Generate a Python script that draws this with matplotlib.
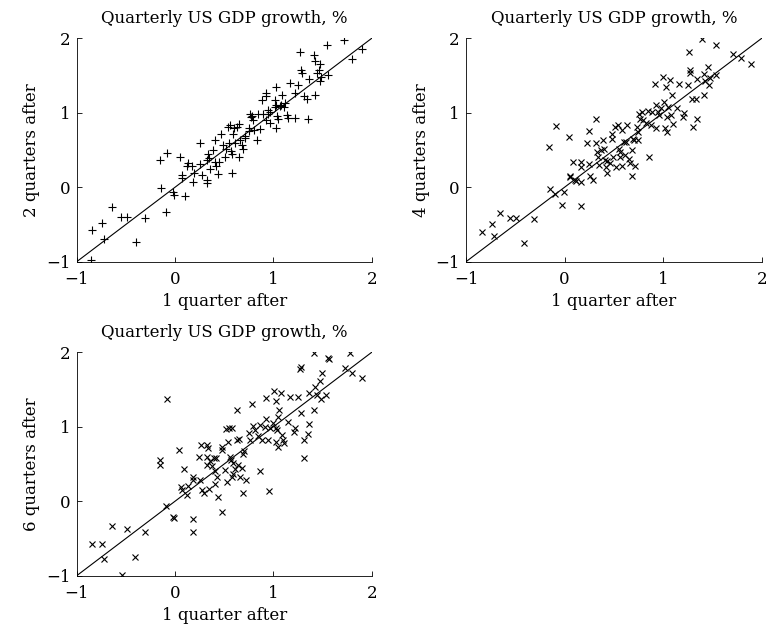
import matplotlib
matplotlib.use("Agg")
import matplotlib.pyplot as plt
import numpy as np

# Panel 1: 1 quarter after vs 2 quarters after
x1 = [-0.85,-0.84,-0.74,-0.72,-0.64,-0.55,-0.49,-0.40,-0.31,-0.15,-0.14,-0.085,-0.09,-0.02,-0.01,0.05,0.07,0.075,0.10,0.12,
      0.135,0.17,0.18,0.19,0.25,0.25,0.27,0.32,0.32,0.33,0.34,0.35,0.36,0.39,0.41,0.41,0.42,0.44,0.45,0.47,
      0.49,0.51,0.52,0.54,0.55,0.56,0.57,0.58,0.58,0.59,0.60,0.61,0.63,0.65,0.65,0.66,0.68,0.69,0.71,0.71,
      0.75,0.75,0.76,0.77,0.78,0.79,0.80,0.83,0.84,0.86,0.88,0.89,0.92,0.93,0.93,0.95,0.95,0.97,0.97,1.02,
      1.02,1.03,1.03,1.03,1.04,1.05,1.07,1.08,1.09,1.11,1.12,1.14,1.15,1.17,1.22,1.22,1.25,1.27,1.28,1.29,
      1.31,1.34,1.36,1.35,1.41,1.42,1.42,1.44,1.46,1.47,1.48,1.47,1.55,1.56,1.72,1.80,1.90]
y1 = [-0.98,-0.575,-0.48,-0.70,-0.26,-0.40,-0.40,-0.74,-0.41,0.37,-0.015,0.46,-0.33,-0.06,-0.10,0.41,0.16,0.12,-0.12,0.29,
      0.33,0.28,0.07,0.19,0.59,0.31,0.16,0.10,0.06,0.37,0.45,0.39,0.25,0.50,0.63,0.34,0.28,0.18,0.34,0.72,
      0.57,0.41,0.52,0.81,0.59,0.84,0.48,0.45,0.19,0.72,0.79,0.59,0.81,0.85,0.41,0.63,0.57,0.52,0.66,0.69,
      0.79,0.75,0.99,0.94,0.96,0.90,0.77,0.63,0.99,0.78,1.17,0.99,1.22,1.26,0.90,1.04,0.99,1.01,0.86,1.17,
      1.08,0.80,1.10,1.35,0.96,0.92,1.09,1.10,1.24,1.08,1.13,0.97,0.93,1.40,1.27,0.93,1.37,1.82,1.57,1.53,
      1.22,1.19,1.46,0.91,1.78,1.69,1.24,1.53,1.57,1.66,1.48,1.42,1.91,1.51,1.98,1.72,1.85]

# Panel 2: 1 quarter after vs 4 quarters after
x2 = [-0.84,-0.74,-0.72,-0.65,-0.55,-0.49,-0.41,-0.31,-0.16,-0.15,-0.09,-0.10,-0.03,-0.01,0.04,0.06,0.06,0.09,0.11,0.12,
      0.17,0.17,0.17,0.17,0.23,0.25,0.26,0.25,0.29,0.32,0.32,0.33,0.34,0.35,0.37,0.39,0.40,0.41,0.42,0.43,
      0.43,0.46,0.48,0.48,0.49,0.51,0.52,0.54,0.55,0.56,0.56,0.58,0.58,0.60,0.61,0.62,0.63,0.65,0.66,0.68,
      0.68,0.69,0.70,0.71,0.73,0.74,0.75,0.76,0.77,0.79,0.80,0.83,0.85,0.86,0.88,0.89,0.92,0.93,0.93,0.95,
      0.96,0.98,1.00,1.01,1.02,1.03,1.04,1.04,1.05,1.07,1.08,1.09,1.10,1.14,1.16,1.20,1.21,1.25,1.26,1.27,
      1.27,1.29,1.30,1.33,1.34,1.34,1.39,1.41,1.41,1.42,1.46,1.47,1.48,1.54,1.54,1.71,1.79,1.89]
y2 = [-0.60,-0.49,-0.66,-0.35,-0.41,-0.41,-0.75,-0.42,0.54,-0.03,0.82,-0.09,-0.24,-0.07,0.68,0.15,0.14,0.34,0.10,0.08,
      0.34,0.27,0.07,-0.25,0.59,0.75,0.15,0.31,0.10,0.91,0.59,0.47,0.41,0.30,0.50,0.63,0.51,0.36,0.27,0.19,
      0.35,0.32,0.72,0.65,0.41,0.81,0.27,0.83,0.52,0.47,0.41,0.77,0.29,0.61,0.43,0.61,0.83,0.38,0.32,0.50,
      0.15,0.65,0.63,0.28,0.81,0.74,0.64,0.99,0.92,1.01,0.90,0.86,1.03,0.41,0.84,1.01,1.39,1.10,0.80,1.01,
      0.97,1.06,1.48,1.15,0.79,1.35,0.74,0.94,1.08,1.44,0.97,1.24,0.85,1.06,1.39,0.94,1.00,1.37,1.82,1.58,
      1.54,1.18,0.81,1.19,0.91,1.45,1.99,1.52,1.24,1.42,1.61,1.37,1.47,1.91,1.51,1.79,1.73,1.66]

# Panel 3: 1 quarter after vs 6 quarters after
x3 = [-0.84,-0.74,-0.72,-0.64,-0.54,-0.49,-0.41,-0.31,-0.15,-0.15,-0.08,-0.09,-0.02,-0.01,0.04,0.06,0.07,0.09,0.12,0.13,
      0.18,0.18,0.18,0.18,0.24,0.25,0.26,0.27,0.29,0.32,0.33,0.34,0.33,0.35,0.36,0.38,0.40,0.41,0.41,0.42,
      0.43,0.44,0.48,0.48,0.48,0.51,0.52,0.53,0.54,0.55,0.56,0.57,0.58,0.58,0.59,0.59,0.61,0.63,0.63,0.64,
      0.65,0.66,0.68,0.69,0.69,0.70,0.72,0.75,0.76,0.78,0.79,0.81,0.84,0.86,0.86,0.88,0.91,0.93,0.93,0.95,
      0.96,0.97,1.00,1.01,1.03,1.03,1.03,1.04,1.05,1.06,1.05,1.08,1.09,1.10,1.11,1.15,1.17,1.21,1.22,1.25,
      1.27,1.28,1.28,1.31,1.31,1.35,1.36,1.36,1.41,1.41,1.42,1.44,1.47,1.48,1.49,1.54,1.56,1.57,1.73,1.78,
      1.80,1.90]
y3 = [-0.58,-0.57,-0.77,-0.33,-0.99,-0.37,-0.75,-0.41,0.55,0.48,1.37,-0.07,-0.21,-0.23,0.69,0.19,0.15,0.43,0.08,0.20,
      0.32,0.29,-0.24,-0.41,0.59,0.29,0.76,0.15,0.11,0.59,0.75,0.71,0.49,0.16,0.54,0.47,0.58,0.40,0.23,0.58,
      0.33,0.06,0.69,0.73,-0.15,0.42,0.97,0.26,0.80,0.99,0.60,0.55,0.99,0.33,0.52,0.37,0.43,0.82,1.22,0.49,
      0.83,0.32,0.44,0.11,0.64,0.67,0.28,0.91,0.82,1.31,1.01,0.96,0.87,1.02,0.41,0.82,1.00,1.39,1.10,0.82,
      0.14,0.98,1.05,1.48,0.98,1.35,0.79,0.95,1.13,1.23,0.73,1.45,0.89,0.82,0.78,1.07,1.40,0.93,0.99,1.40,
      1.77,1.80,1.18,0.58,0.82,0.90,1.04,1.45,1.99,1.23,1.53,1.43,1.61,1.37,1.72,1.43,1.92,1.91,1.79,1.99,
      1.72,1.65]

ticks = [-1, 0, 1, 2]
tick_labels = ["\u22121", "0", "1", "2"]
title = "Quarterly US GDP growth, %"
xlabel = "1 quarter after"
ylabels = ["2 quarters after", "4 quarters after", "6 quarters after"]

plt.rcParams['font.family'] = ['DejaVu Serif']
plt.rcParams['font.size'] = 12

fig = plt.figure(figsize=(7.75, 6.27), dpi=100)
W, H = 775, 627
def ax_at(l, t, r, b):
    return fig.add_axes([l / W, 1 - b / H, (r - l) / W, (b - t) / H])

axes = [ax_at(76.7, 38.3, 371.7, 261.7),
        ax_at(466, 38.3, 761.7, 261.7),
        ax_at(76.7, 352.3, 371.7, 575.7)]
data = [(x1, y1, '+', 5.5), (x2, y2, 'x', 4.2), (x3, y3, 'x', 4.2)]

for ax, (xs, ys, m, ms), yl in zip(axes, data, ylabels):
    ax.plot(xs, ys, linestyle='none', marker=m, markersize=ms, color='black',
            markeredgewidth=0.8)
    ax.plot([-1, 2], [-1, 2], color='black', linewidth=0.8)
    ax.set_xlim(-1, 2)
    ax.set_ylim(-1, 2)
    ax.set_xticks(ticks)
    ax.set_xticklabels(tick_labels)
    ax.set_yticks(ticks)
    ax.set_yticklabels(tick_labels)
    ax.spines['top'].set_visible(False)
    ax.spines['right'].set_visible(False)
    ax.tick_params(direction='in', length=3.5, width=0.6)
    ax.tick_params(axis='x', pad=7)
    ax.tick_params(axis='y', pad=4.5)
    for s in ('left', 'bottom'):
        ax.spines[s].set_linewidth(0.6)
    ax.set_title(title, fontsize=12, pad=11)
    ax.set_xlabel(xlabel, labelpad=3)
    ax.set_ylabel(yl, labelpad=4)

fig.savefig("out.png", dpi=100)
